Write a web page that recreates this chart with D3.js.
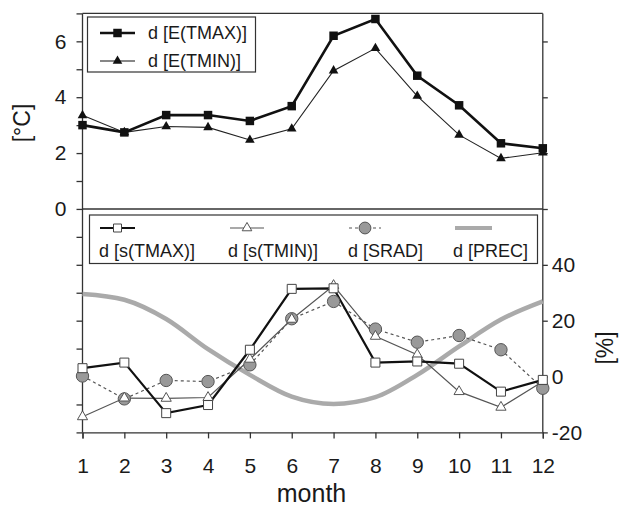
<!DOCTYPE html>
<html>
<head>
<meta charset="utf-8">
<script src="https://cdn.jsdelivr.net/npm/d3@7"></script>
<style>
  body { margin: 0; background: #fff; }
  svg { display: block; font-family: "Liberation Sans", Arial, sans-serif; }
  .axis path, .axis line { stroke: #333; stroke-width: 1.3; }
  .axis text { fill: #1a1a1a; font-size: 21px; }
</style>
</head>
<body>
<svg id="chart" width="621" height="506"></svg>
<script>
// monthly data
const months = [1, 2, 3, 4, 5, 6, 7, 8, 9, 10, 11, 12];
const eTmax = [3.0, 2.74, 3.36, 3.36, 3.15, 3.68, 6.2, 6.8, 4.77, 3.71, 2.35, 2.17];
const eTmin = [3.35, 2.74, 2.95, 2.92, 2.47, 2.87, 4.95, 5.75, 4.04, 2.65, 1.81, 2.01];
const sTmax = [3.0, 5.0, -13.1, -10.2, 9.6, 31.4, 31.6, 5.0, 5.4, 4.6, -5.4, -1.2];
const sTmin = [-14.4, -7.7, -7.8, -7.5, 6.2, 20.5, 32.6, 14.4, 7.8, -5.4, -11.0, -1.8];
const srad = [0.2, -8.0, -1.4, -1.8, 4.2, 20.7, 26.9, 17.0, 12.3, 14.7, 9.6, -4.2];
const prec = [29.6, 27.5, 20.6, 9.8, 0.6, -7.2, -9.8, -7.4, 0.6, 10.8, 20.4, 26.9];

const leftTicks = d3.range(-8, 8);        // degC ticks, labels on even >= 0
const rightTicks = d3.range(-20, 121, 20); // percent ticks, labels up to 40

const svg = d3.select("#chart");
const pLeft = 82.5, pRight = 542.8, pTop = 13.4, pBottom = 432.4, pMid = 209;

const x = d3.scaleLinear().domain([1, 12]).range([pLeft, pRight]);
const yC = d3.scaleLinear().domain([-8, 7]).range([pBottom, pTop]);
const yP = d3.scaleLinear().domain([-20, 60]).range([pBottom, pMid]);

// frame
svg.append("line").attr("x1", pLeft).attr("x2", pRight).attr("y1", pTop).attr("y2", pTop)
  .attr("stroke", "#333").attr("stroke-width", 1.3);
svg.append("line").attr("x1", pLeft).attr("x2", pRight).attr("y1", pMid).attr("y2", pMid)
  .attr("stroke", "#333").attr("stroke-width", 1.3);

// axes
svg.append("g").attr("class", "axis")
  .attr("transform", `translate(${pLeft},0)`)
  .call(d3.axisLeft(yC).tickValues(leftTicks).tickSize(6).tickPadding(10)
    .tickFormat(d => (d >= 0 && d % 2 === 0) ? d : ""))
  .call(g => g.select(".domain").attr("d", `M0,${pTop}V${pBottom}`));

svg.append("g").attr("class", "axis")
  .attr("transform", `translate(${pRight},0)`)
  .call(d3.axisRight(yP).tickValues(rightTicks).tickSize(5).tickPadding(4)
    .tickFormat(d => d <= 40 ? String(d) : ""))
  .call(g => g.select(".domain").attr("d", `M0,${pTop}V${pBottom}`));

svg.append("g").attr("class", "axis")
  .attr("transform", `translate(0,${pBottom})`)
  .call(d3.axisBottom(x).tickValues(months).tickSize(6).tickPadding(20).tickFormat(d => d));

// axis titles
svg.append("text").attr("transform", "translate(30,123) rotate(-90)")
  .attr("text-anchor", "middle").attr("font-size", 23).attr("fill", "#1a1a1a").text("[°C]");
svg.append("text").attr("transform", "translate(613,348) rotate(-90)")
  .attr("text-anchor", "middle").attr("font-size", 23).attr("fill", "#1a1a1a").text("[%]");
svg.append("text").attr("x", 311.5).attr("y", 502)
  .attr("text-anchor", "middle").attr("font-size", 25).attr("fill", "#1a1a1a").text("month");

const lineOf = (ys, scale, curve) => d3.line()
  .x((d, i) => x(months[i])).y(d => scale(d)).curve(curve || d3.curveLinear)(ys);

const sq = d3.symbol().type(d3.symbolSquare);
const tri = d3.symbol().type(d3.symbolTriangle);
const circ = d3.symbol().type(d3.symbolCircle);

// lower panel series
svg.append("path").attr("d", lineOf(prec, yP, d3.curveMonotoneX))
  .attr("fill", "none").attr("stroke", "#aaa").attr("stroke-width", 4.5);

svg.append("path").attr("d", lineOf(srad, yP))
  .attr("fill", "none").attr("stroke", "#555").attr("stroke-width", 1.2).attr("stroke-dasharray", "3,3");
svg.append("path").attr("d", lineOf(sTmin, yP))
  .attr("fill", "none").attr("stroke", "#555").attr("stroke-width", 1.2);
svg.append("path").attr("d", lineOf(sTmax, yP))
  .attr("fill", "none").attr("stroke", "#111").attr("stroke-width", 2.2);

svg.append("g").selectAll("path").data(srad).join("path")
  .attr("d", circ.size(120)())
  .attr("transform", (d, i) => `translate(${x(months[i])},${yP(d)})`)
  .attr("fill", "#999").attr("stroke", "#555").attr("stroke-width", 1);
svg.append("g").selectAll("path").data(sTmin).join("path")
  .attr("d", tri.size(45)())
  .attr("transform", (d, i) => `translate(${x(months[i])},${yP(d)})`)
  .attr("fill", "#fff").attr("stroke", "#555").attr("stroke-width", 1);
svg.append("g").selectAll("path").data(sTmax).join("path")
  .attr("d", sq.size(81)())
  .attr("transform", (d, i) => `translate(${x(months[i])},${yP(d)})`)
  .attr("fill", "#fff").attr("stroke", "#444").attr("stroke-width", 1);

// upper panel series
svg.append("path").attr("d", lineOf(eTmin, yC))
  .attr("fill", "none").attr("stroke", "#222").attr("stroke-width", 1.1);
svg.append("path").attr("d", lineOf(eTmax, yC))
  .attr("fill", "none").attr("stroke", "#111").attr("stroke-width", 2.6);
svg.append("g").selectAll("path").data(eTmin).join("path")
  .attr("d", tri.size(40)())
  .attr("transform", (d, i) => `translate(${x(months[i])},${yC(d)})`)
  .attr("fill", "#111");
svg.append("g").selectAll("path").data(eTmax).join("path")
  .attr("d", sq.size(72)())
  .attr("transform", (d, i) => `translate(${x(months[i])},${yC(d)})`)
  .attr("fill", "#111");

// legend, upper panel
const lg1 = svg.append("g");
lg1.append("rect").attr("x", 87.5).attr("y", 17).attr("width", 168).attr("height", 55)
  .attr("fill", "#fff").attr("stroke", "#333").attr("stroke-width", 1.2);
const upperItems = [
  { name: "d [E(TMAX)]", y: 33, w: 2.6, shape: sq.size(72)() },
  { name: "d [E(TMIN)]", y: 61, w: 1.1, shape: tri.size(40)() }
];
upperItems.forEach(it => {
  lg1.append("line").attr("x1", 100).attr("x2", 135).attr("y1", it.y).attr("y2", it.y)
    .attr("stroke", "#111").attr("stroke-width", it.w);
  lg1.append("path").attr("d", it.shape).attr("transform", `translate(117.5,${it.y})`).attr("fill", "#111");
  lg1.append("text").attr("x", 148).attr("y", it.y + 5.5).attr("font-size", 18).attr("fill", "#1a1a1a").text(it.name);
});

// legend, lower panel
const lg2 = svg.append("g");
lg2.append("rect").attr("x", 89.5).attr("y", 215).attr("width", 448).attr("height", 48.5)
  .attr("fill", "#fff").attr("stroke", "#333").attr("stroke-width", 1.2);
const lowerItems = [
  { name: "d [s(TMAX)]", x0: 100, x1: 135, tx: 99, stroke: "#111", w: 2.2, dash: null,
    shape: sq.size(64)(), fill: "#fff", ms: "#444" },
  { name: "d [s(TMIN)]", x0: 230, x1: 264, tx: 228, stroke: "#555", w: 1.2, dash: null,
    shape: tri.size(40)(), fill: "#fff", ms: "#555" },
  { name: "d [SRAD]", x0: 349, x1: 381, tx: 348, stroke: "#555", w: 1.2, dash: "3,3",
    shape: circ.size(110)(), fill: "#999", ms: "#555" },
  { name: "d [PREC]", x0: 455, x1: 492, tx: 453, stroke: "#aaa", w: 4, dash: null,
    shape: null }
];
lowerItems.forEach(it => {
  lg2.append("line").attr("x1", it.x0).attr("x2", it.x1).attr("y1", 228).attr("y2", 228)
    .attr("stroke", it.stroke).attr("stroke-width", it.w).attr("stroke-dasharray", it.dash);
  if (it.shape) {
    lg2.append("path").attr("d", it.shape).attr("transform", `translate(${(it.x0 + it.x1) / 2},228)`)
      .attr("fill", it.fill).attr("stroke", it.ms).attr("stroke-width", 1);
  }
  lg2.append("text").attr("x", it.tx).attr("y", 256.5).attr("font-size", 18).attr("fill", "#1a1a1a").text(it.name);
});
</script>
</body>
</html>
